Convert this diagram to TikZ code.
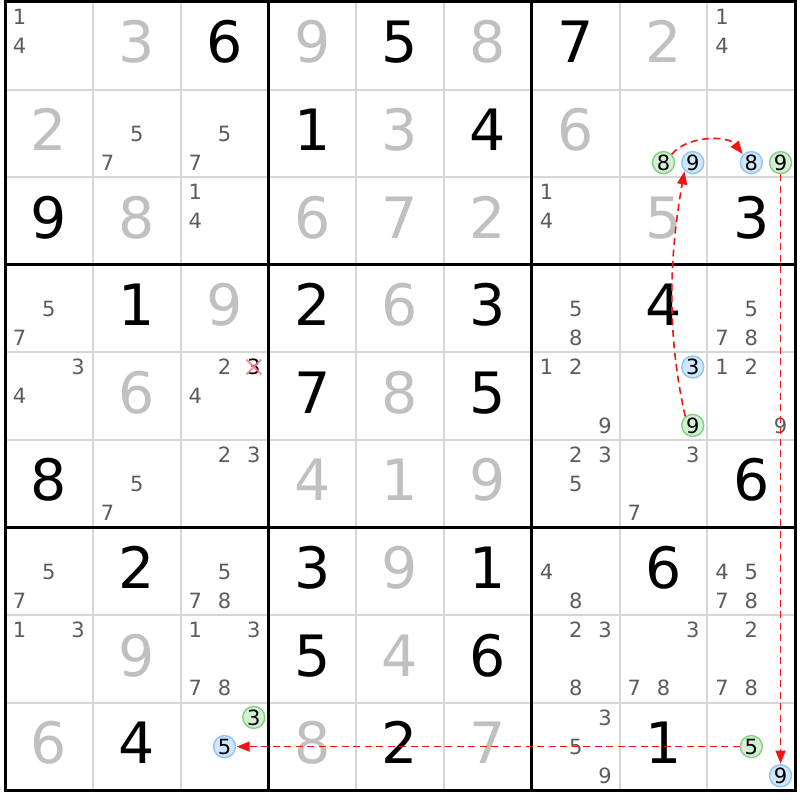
\documentclass[tikz,border=0pt]{standalone}
\usepackage{fontspec}
\setmainfont{DejaVu Sans}
\usetikzlibrary{arrows.meta}
\definecolor{solvedgray}{RGB}{192,192,192}
\definecolor{candgray}{RGB}{92,92,92}
\definecolor{thingray}{RGB}{214,214,214}
\definecolor{greenfill}{RGB}{212,240,212}
\definecolor{greenline}{RGB}{128,208,128}
\definecolor{bluefill}{RGB}{208,230,250}
\definecolor{blueline}{RGB}{144,196,244}
\definecolor{chainred}{RGB}{240,20,20}
\definecolor{xpink}{RGB}{245,130,140}
\tikzset{
  given/.style={inner sep=0pt, anchor=base, font=\fontsize{57}{62}\selectfont, text=black},
  solved/.style={given, text=solvedgray},
  cand/.style={inner sep=0pt, anchor=center, text height=15.3pt, text depth=0pt, font=\fontsize{21}{23}\selectfont, text=candgray},
  candblack/.style={cand, text=black},
  gcirc/.style={cand, text=black, circle, minimum size=22pt, fill=greenfill, draw=greenline, line width=1.4pt},
  bcirc/.style={cand, text=black, circle, minimum size=22pt, fill=bluefill, draw=blueline, line width=1.4pt},
  thinline/.style={draw=thingray, line width=2pt},
  thickline/.style={draw=black, line width=3pt},
  chain/.style={draw=chainred, line width=1.6pt, dash pattern=on 7pt off 4.5pt, -{Triangle[length=13pt,width=10pt]}, shorten >=0.5pt},
  xmark/.style={draw=xpink, line width=2pt, opacity=0.85}
}
\begin{document}
\begin{tikzpicture}[x=1pt,y=-1pt]
\useasboundingbox (0,0) rectangle (800,800);
\fill[white] (0,0) rectangle (800,800);
\def\cw{87.8}
\def\ch{87.6}
% thin lines
\foreach \i in {1,2,4,5,7,8}{
  \pgfmathsetmacro\xx{5+\i*\cw}
  \pgfmathsetmacro\yy{2+\i*\ch}
  \draw[thinline] (\xx,2) -- (\xx,790.4);
  \draw[thinline] (5,\yy) -- (795.2,\yy);
}
% thick lines
\foreach \i in {3,6}{
  \pgfmathsetmacro\xx{5+\i*\cw}
  \pgfmathsetmacro\yy{2+\i*\ch}
  \draw[thickline] (\xx,2) -- (\xx,790.4);
  \draw[thickline] (5,\yy) -- (795.2,\yy);
}
\draw[thickline] (5,2) rectangle (795.2,790.4);
% given digits
\foreach \r/\c/\d in {1/3/6,1/5/5,1/7/7,2/4/1,2/6/4,3/1/9,3/9/3,4/2/1,4/4/2,4/6/3,4/8/4,5/4/7,5/6/5,6/1/8,6/9/6,7/2/2,7/4/3,7/6/1,7/8/6,8/4/5,8/6/6,9/2/4,9/5/2,9/8/1}{
  \pgfmathsetmacro\x{5+(\c-0.5)*\cw}
  \pgfmathsetmacro\y{2+(\r-0.5)*\ch+17}
  \node[given] (g-\r-\c) at (\x,\y) {\d};
}
% solved digits
\foreach \r/\c/\d in {1/2/3,1/4/9,1/6/8,1/8/2,2/1/2,2/5/3,2/7/6,3/2/8,3/4/6,3/5/7,3/6/2,3/8/5,4/3/9,4/5/6,5/2/6,5/5/8,6/4/4,6/5/1,6/6/9,7/5/9,8/2/9,8/5/4,9/1/6,9/4/8,9/6/7}{
  \pgfmathsetmacro\x{5+(\c-0.5)*\cw}
  \pgfmathsetmacro\y{2+(\r-0.5)*\ch+17}
  \node[solved] (s-\r-\c) at (\x,\y) {\d};
}
% candidates
\foreach \r/\c/\d/\st in {
  1/1/1/cand,1/1/4/cand,1/9/1/cand,1/9/4/cand,
  2/2/5/cand,2/2/7/cand,2/3/5/cand,2/3/7/cand,
  2/8/8/gcirc,2/8/9/bcirc,2/9/8/bcirc,2/9/9/gcirc,
  3/3/1/cand,3/3/4/cand,3/7/1/cand,3/7/4/cand,
  4/1/5/cand,4/1/7/cand,4/7/5/cand,4/7/8/cand,4/9/5/cand,4/9/7/cand,4/9/8/cand,
  5/1/3/cand,5/1/4/cand,5/3/2/cand,5/3/3/candblack,5/3/4/cand,
  5/7/1/cand,5/7/2/cand,5/7/9/cand,5/8/3/bcirc,5/8/9/gcirc,5/9/1/cand,5/9/2/cand,5/9/9/cand,
  6/2/5/cand,6/2/7/cand,6/3/2/cand,6/3/3/cand,6/7/2/cand,6/7/3/cand,6/7/5/cand,6/8/3/cand,6/8/7/cand,
  7/1/5/cand,7/1/7/cand,7/3/5/cand,7/3/7/cand,7/3/8/cand,7/7/4/cand,7/7/8/cand,7/9/4/cand,7/9/5/cand,7/9/7/cand,7/9/8/cand,
  8/1/1/cand,8/1/3/cand,8/3/1/cand,8/3/3/cand,8/3/7/cand,8/3/8/cand,8/7/2/cand,8/7/3/cand,8/7/8/cand,8/8/3/cand,8/8/7/cand,8/8/8/cand,8/9/2/cand,8/9/7/cand,8/9/8/cand,
  9/3/3/gcirc,9/3/5/bcirc,9/7/3/cand,9/7/5/cand,9/7/9/cand,9/9/5/gcirc,9/9/9/bcirc}{
  \pgfmathtruncatemacro\k{mod(\d-1,3)}
  \pgfmathtruncatemacro\m{div(\d-1,3)}
  \pgfmathsetmacro\x{5+(\c-1)*\cw+(\k+0.5)*\cw/3}
  \pgfmathsetmacro\y{2+(\r-1)*\ch+(\m+0.5)*\ch/3}
  \node[\st] (k-\r-\c-\d) at (\x,\y) {\d};
}
% eliminated candidate
\coordinate (xa) at ([shift={(-7.5,-7.5)}]k-5-3-3.center);
\coordinate (xb) at ([shift={(7.5,7.5)}]k-5-3-3.center);
\coordinate (xc) at ([shift={(-7.5,7.5)}]k-5-3-3.center);
\coordinate (xd) at ([shift={(7.5,-7.5)}]k-5-3-3.center);
\draw[xmark] (xa) -- (xb);
\draw[xmark] (xc) -- (xd);
% chain
\draw[chain] (k-5-8-9.130) .. controls +(-18,-80) and +(-16,90) .. (k-2-8-9.225);
\draw[chain] (k-2-8-8.45) .. controls +(15,-19) and +(-15,-19) .. (k-2-9-8.135);
\draw[chain] (k-2-9-9.south) -- (k-9-9-9.north);
\draw[chain] (k-9-9-5.west) -- (k-9-3-5.east);
\end{tikzpicture}
\end{document}
